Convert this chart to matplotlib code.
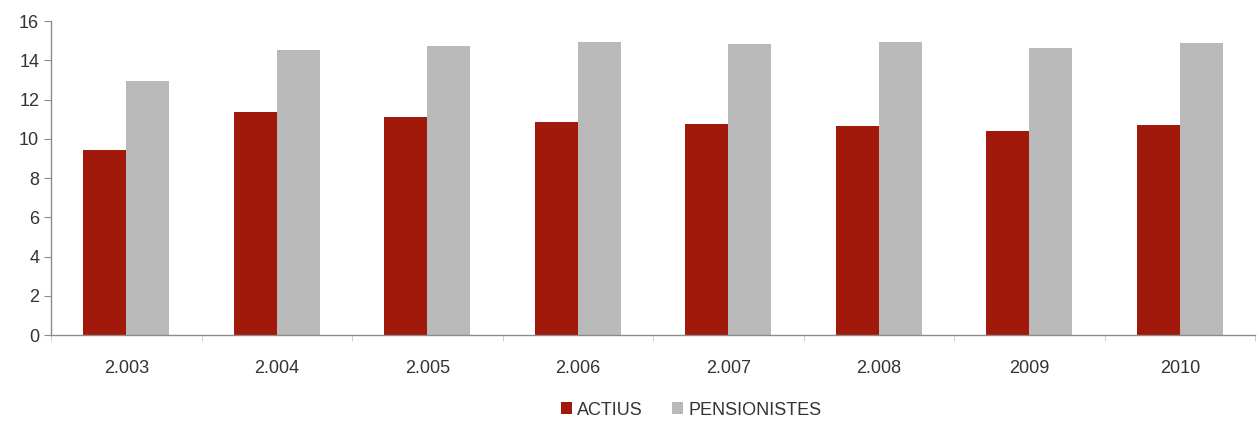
import matplotlib
matplotlib.use("Agg")
import matplotlib.pyplot as plt
import numpy as np

categories = ["2.003", "2.004", "2.005", "2.006", "2.007", "2.008", "2009", "2010"]
actius = [9.45, 11.35, 11.1, 10.85, 10.75, 10.65, 10.4, 10.7]
pensionistes = [12.95, 14.55, 14.75, 14.95, 14.85, 14.95, 14.65, 14.9]
yticks = [0, 2, 4, 6, 8, 10, 12, 14, 16]

plt.rcParams['font.family'] = ['Liberation Sans', 'DejaVu Sans']

fig = plt.figure(figsize=(12.59, 4.23), dpi=100)
ax = fig.add_axes([0.0405, 0.208, 0.9565, 0.742])

x = np.arange(len(categories))
w = 0.286
ax.bar(x - w/2, actius, width=w, color="#A0190A", label="ACTIUS")
ax.bar(x + w/2, pensionistes, width=w, color="#B9B9B9", label="PENSIONISTES")

ax.set_xlim(-0.5, len(categories) - 0.5)
ax.set_ylim(0, 16)
ax.set_yticks(yticks)
ax.set_xticks(x)
ax.set_xticklabels(categories)
ax.set_xticks(np.arange(len(categories) + 1) - 0.5, minor=True)

for s in ["top", "right"]:
    ax.spines[s].set_visible(False)
for s in ["left", "bottom"]:
    ax.spines[s].set_color("#8C8C8C")
    ax.spines[s].set_linewidth(1.0)

ax.tick_params(axis="y", colors="#8C8C8C", labelcolor="#333333", labelsize=13, length=5, direction="out")
ax.tick_params(axis="x", which="major", length=0, labelcolor="#333333", labelsize=13, pad=18)
ax.tick_params(axis="x", which="minor", length=4, colors="#C8C8C8")

handles, labels = ax.get_legend_handles_labels()
fig.legend(handles, labels, loc="center", bbox_to_anchor=(691/1259, 1 - 410/423), ncol=2,
           frameon=False, fontsize=13, handlelength=0.6, handleheight=0.6, handletextpad=0.3,
           columnspacing=1.6, labelcolor="#333333")

fig.savefig("out.png", dpi=100)
